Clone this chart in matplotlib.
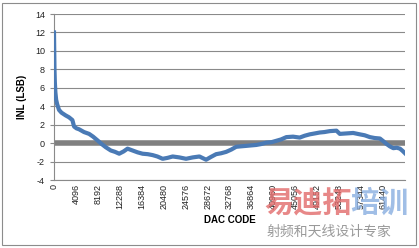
import matplotlib.pyplot as plt
from matplotlib.patches import Rectangle

plt.rcParams['font.family'] = ['Liberation Sans', 'DejaVu Sans']

# INL curve (DAC code, LSB)
codes = [0, 40, 90, 160, 260, 400, 600, 936, 1400, 2184, 2800, 3433, 3745,
         4200, 4681, 5600, 6554, 7300, 8114, 8900, 9674, 10610, 11400, 12171,
         13000, 13731, 14667, 15600, 16540, 17500, 18412, 19300, 20285, 21200,
         22157, 23400, 24654, 25900, 27150, 28399, 29300, 30271, 31200, 32144,
         33100, 34016, 34900, 35889, 36800, 37761, 38700, 39634, 40600, 41506,
         42400, 43379, 44627, 45875, 46800, 47748, 48700, 49620, 50500, 51493,
         52741, 53365, 54600, 55862, 57110, 58000, 58982, 59900, 60855, 61500,
         62103, 62700, 63352, 64000, 64600, 65100, 65535]
inl = [12.0, 10.2, 8.0, 6.6, 5.5, 4.7, 4.2, 3.6, 3.3, 3.0, 2.8, 2.5, 1.8,
       1.6, 1.5, 1.2, 1.0, 0.7, 0.3, -0.1, -0.45, -0.8, -0.95, -1.15,
       -0.9, -0.6, -0.8, -1.0, -1.15, -1.2, -1.3, -1.45, -1.7, -1.6,
       -1.45, -1.55, -1.7, -1.55, -1.45, -1.8, -1.5, -1.2, -1.1, -0.95,
       -0.7, -0.4, -0.35, -0.3, -0.25, -0.2, -0.1, 0.05, 0.1, 0.25,
       0.4, 0.65, 0.7, 0.6, 0.8, 0.95, 1.05, 1.15, 1.2, 1.3,
       1.35, 1.0, 1.05, 1.1, 0.95, 0.85, 0.65, 0.55, 0.5, 0.2,
       -0.1, -0.35, -0.55, -0.5, -0.6, -0.85, -1.1]

xticks = list(range(0, 65536, 4096))
yticks = list(range(-4, 15, 2))

fig = plt.figure(figsize=(4.19, 2.48), dpi=100)
fig.patches.append(Rectangle((2 / 419, 3 / 248), 414 / 419, 242 / 248,
                             transform=fig.transFigure, fill=False,
                             edgecolor='#8c8c8c', linewidth=0.8))

ax = fig.add_axes([54 / 419, 68 / 248, 351 / 419, 166 / 248])
ax.axhline(0, color='#808080', linewidth=4, zorder=2)
ax.plot(codes, inl, color='#4a7ab5', linewidth=3, zorder=3)

ax.set_xlim(0, 65536)
ax.set_ylim(-4, 14)
ax.set_xticks(xticks)
ax.set_xticklabels([str(t) for t in xticks], rotation=90, fontsize=6.5,
                   va='top')
ax.set_yticks(yticks)
ax.set_yticklabels([str(t) for t in yticks], fontsize=6.5)
ax.yaxis.grid(True, color='#8a8a8a', linewidth=0.8)
ax.set_axisbelow(True)
for s in ['top', 'right']:
    ax.spines[s].set_visible(False)
for s in ['left', 'bottom']:
    ax.spines[s].set_color('#8a8a8a')
    ax.spines[s].set_linewidth(0.8)
ax.tick_params(colors='#8a8a8a', labelcolor='#222222', length=3, width=0.8)
ax.tick_params(axis='x', length=0, pad=3)

ax.set_ylabel('INL (LSB)', fontsize=7, fontweight='bold', labelpad=6)
ax.set_xlabel('DAC CODE', fontsize=7, fontweight='bold', labelpad=4)

# watermark
cjk = ['Noto Sans CJK SC', 'DejaVu Sans']
fig.text(264 / 419, 1 - 203 / 248, '易迪拓', family=cjk, fontsize=21,
         fontweight='bold', color='#e26a6a', alpha=0.8, va='center')
fig.text(350 / 419, 1 - 203 / 248, '培训', family=cjk, fontsize=21,
         fontweight='bold', color='#88aee0', alpha=0.8, va='center')
fig.text(267 / 419, 1 - 232 / 248, '射频和天线设计专家', family=cjk,
         fontsize=10, color='#9a9a9a', va='center')

fig.savefig('out.png', dpi=100)
